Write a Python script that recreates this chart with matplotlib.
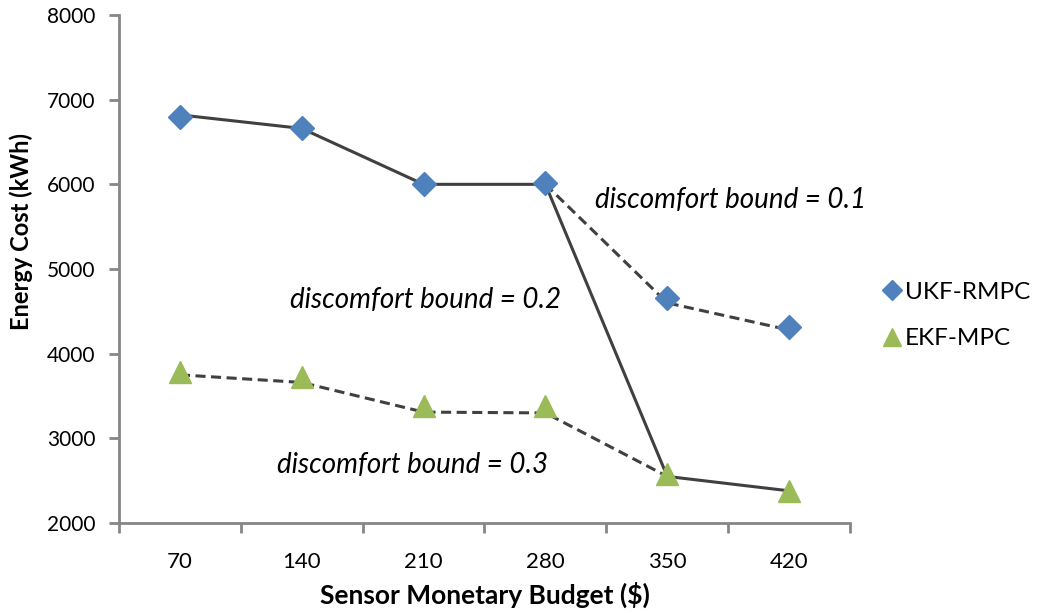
import matplotlib
matplotlib.use("Agg")
import matplotlib.pyplot as plt
from matplotlib.ticker import FixedLocator, NullFormatter, FixedFormatter

# ---- data ----
categories = ["70", "140", "210", "280", "350", "420"]
ukf_rmpc = [6800, 6670, 6000, 6010, 4660, 4320]
ekf_mpc = [3780, 3720, 3380, 3380, 2580, 2380]

# connecting trend lines (drawn as separate series)
solid_line = [6820, 6660, 6000, 6000, 2550, 2380]          # all categories
dash_upper_idx = [3, 4, 5]
dash_upper = [6000, 4600, 4280]
dash_lower_idx = [0, 1, 2, 3, 4]
dash_lower = [3750, 3660, 3310, 3300, 2550]

annotations = [
    ("discomfort bound = 0.1", 4.41, 5815),
    ("discomfort bound = 0.2", 1.90, 4634),
    ("discomfort bound = 0.3", 1.80, 2685),
]

yticks = [2000, 3000, 4000, 5000, 6000, 7000, 8000]

plt.rcParams['font.family'] = ['Lato', 'DejaVu Sans']

fig = plt.figure(figsize=(10.38, 6.13), dpi=100)
ax = fig.add_axes([119/1038, 1-523/613, (850-119)/1038, (523-15)/613])

x = list(range(1, len(categories)+1))
line_col = '#404040'
ax.plot(x, solid_line, color=line_col, lw=2.2, solid_capstyle='butt', zorder=2)
ax.plot([x[i] for i in dash_upper_idx], dash_upper, color=line_col, lw=2.2,
        dashes=(3.3, 1.8), zorder=2)
ax.plot([x[i] for i in dash_lower_idx], dash_lower, color=line_col, lw=2.2,
        dashes=(3.3, 1.8), zorder=2)

ax.plot(x, ukf_rmpc, linestyle='none', marker='D', ms=12, color='#4F81BD',
        markeredgecolor='#4F81BD', label='UKF-RMPC', zorder=3)
ax.plot(x, ekf_mpc, linestyle='none', marker='^', ms=16, color='#9BBB59',
        markeredgecolor='#9BBB59', label='EKF-MPC', zorder=3)

for txt, tx, ty in annotations:
    ax.text(tx, ty, txt, fontsize=20, style='italic', va='center', ha='left',
            color='black')

ax.set_xlim(0.5, len(categories)+0.5)
ax.set_ylim(2000, 8000)
ax.set_yticks(yticks)
ax.set_yticklabels([str(v) for v in yticks])

ax.xaxis.set_major_locator(FixedLocator([i+0.5 for i in range(0, len(categories)+1)]))
ax.xaxis.set_major_formatter(NullFormatter())
ax.xaxis.set_minor_locator(FixedLocator(x))
ax.xaxis.set_minor_formatter(FixedFormatter(categories))

axis_col = '#868686'
for s in ['top', 'right']:
    ax.spines[s].set_visible(False)
for s in ['left', 'bottom']:
    ax.spines[s].set_color(axis_col)
    ax.spines[s].set_linewidth(2)
ax.tick_params(axis='both', which='major', color=axis_col, width=2, length=7,
               direction='out', labelsize=15)
ax.tick_params(axis='x', which='minor', length=0, labelsize=16, pad=21)
ax.tick_params(axis='y', which='major', pad=10)

ax.set_xlabel('Sensor Monetary Budget ($)', fontsize=19, fontweight='bold', labelpad=7)
ax.set_ylabel('Energy Cost (kWh)', fontsize=17, fontweight='bold')
ax.yaxis.set_label_coords(-0.118, (523-232)/508)

leg = ax.legend(loc='upper left', bbox_to_anchor=(860/1038, 1-260/613),
                bbox_transform=fig.transFigure, frameon=False, fontsize=17.5,
                handlelength=0.8, handletextpad=0.15, labelspacing=1.05,
                markerscale=0.85)

fig.savefig('out.png', dpi=100)
